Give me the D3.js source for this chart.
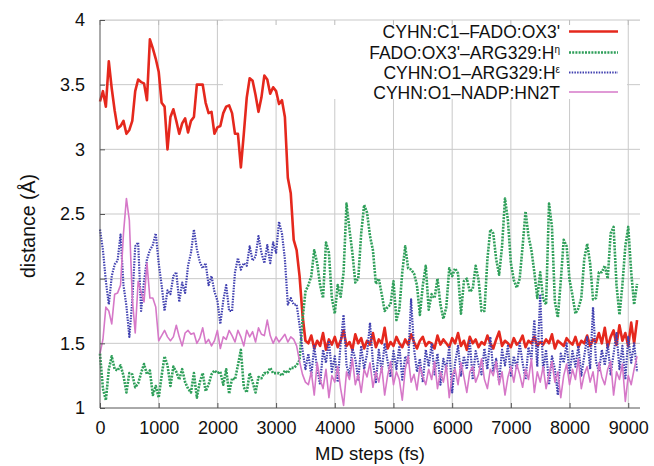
<!DOCTYPE html>
<html lang="en">

<head>
	<meta charset="utf-8">
	<style>
		body {
			margin: 0;
			background-color: white;
		}

		svg {
			display: block;
			background-color: white;
			font-family: 'Liberation Sans', Arial, sans-serif;
		}

		.grid line {
			stroke: #c9c9c9;
			stroke-width: 1;
		}

		.axis path,
		.axis line {
			stroke: #555;
		}

		.axis text {
			fill: #111;
			font-size: 18px;
		}

		.series {
			fill: none;
		}
	</style>
</head>

<body>
	<svg width="654" height="466"></svg>
	<script src="https://d3js.org/d3.v7.min.js"></script>
	<script>
		// MD steps, one frame every 50 fs
		const steps = d3.range(0, 9200, 50);

		const xTicks = [0, 1000, 2000, 3000, 4000, 5000, 6000, 7000, 8000, 9000];
		const yTicks = [1, 1.5, 2, 2.5, 3, 3.5, 4];

		// CYHN:C1-FADO:OX3'
		const c1Ox3 = [
			3.37, 3.45, 3.33, 3.68, 3.47, 3.30, 3.16, 3.18, 3.22, 3.12,
			3.15, 3.22, 3.45, 3.54, 3.52, 3.51, 3.38, 3.85, 3.78, 3.70,
			3.60, 3.36, 3.33, 3.00, 3.25, 3.31, 3.22, 3.12, 3.20, 3.24,
			3.13, 3.22, 3.25, 3.50, 3.50, 3.50, 3.36, 3.28, 3.29, 3.12,
			3.17, 3.18, 3.28, 3.33, 3.34, 3.28, 3.12, 3.12, 2.86, 3.12,
			3.40, 3.55, 3.53, 3.42, 3.29, 3.40, 3.57, 3.54, 3.43, 3.48,
			3.45, 3.35, 3.38, 3.25, 2.78, 2.66, 2.30, 2.22, 2.02, 1.72,
			1.52,
			1.50, 1.56, 1.46, 1.52, 1.48, 1.58, 1.45, 1.53, 1.49, 1.55,
			1.47, 1.52, 1.60, 1.48, 1.51, 1.45, 1.57, 1.50, 1.54, 1.46,
			1.52, 1.49, 1.58, 1.47, 1.53, 1.50, 1.62, 1.46, 1.51, 1.48,
			1.55, 1.50, 1.47, 1.53, 1.49, 1.57, 1.51, 1.46, 1.52, 1.55,
			1.48, 1.51, 1.50, 1.46, 1.56, 1.49, 1.53, 1.50, 1.47, 1.54,
			1.50, 1.58, 1.48, 1.52, 1.45, 1.55, 1.50, 1.53, 1.47, 1.51,
			1.49, 1.56, 1.50, 1.46, 1.53, 1.59, 1.48, 1.52, 1.50, 1.47,
			1.54, 1.49, 1.51, 1.56, 1.47, 1.52, 1.50, 1.55, 1.48, 1.51,
			1.49, 1.53, 1.50, 1.57, 1.46, 1.52, 1.50, 1.48, 1.54, 1.51,
			1.49, 1.55, 1.47, 1.52, 1.50, 1.56, 1.48, 1.53, 1.51, 1.58,
			1.50, 1.62, 1.47, 1.55, 1.60, 1.49, 1.64, 1.52, 1.58, 1.48,
			1.66, 1.50, 1.68
		];

		// FADO:OX3'-ARG329:H(eta)
		const ox3Heta = [
			1.42, 1.15, 1.06, 1.30, 1.40, 1.30, 1.29, 1.33, 1.25, 1.12,
			1.27, 1.26, 1.16, 1.19, 1.27, 1.34, 1.26, 1.29, 1.10, 1.17,
			1.08, 1.25, 1.40, 1.33, 1.17, 1.32, 1.28, 1.22, 1.30, 1.20,
			1.15, 1.12, 1.27, 1.08, 1.20, 1.27, 1.13, 1.18, 1.26, 1.29,
			1.27, 1.28, 1.18, 1.30, 1.11, 1.23, 1.22, 1.33, 1.45, 1.16,
			1.12, 1.27, 1.20, 1.12, 1.24, 1.23, 1.27, 1.27, 1.31, 1.27,
			1.27, 1.27, 1.25, 1.29, 1.27, 1.31, 1.31, 1.33, 1.37, 1.68,
			1.90, 1.95, 2.02, 2.22, 2.12, 1.95, 1.85, 2.28, 2.20, 1.85,
			1.73, 1.95, 1.86, 2.05, 2.58, 2.38, 2.20, 1.97, 2.00, 2.35,
			2.57, 2.51, 2.33, 2.22, 1.96, 2.00, 1.88, 1.75, 1.78, 1.80,
			1.98, 1.68, 1.76, 2.05, 2.25, 2.08, 2.07, 2.04, 1.95, 1.72,
			1.95, 2.10, 1.76, 1.88, 1.85, 2.00, 1.80, 1.69, 1.78, 2.08,
			2.02, 2.08, 2.04, 1.73, 1.98, 2.00, 1.90, 1.92, 2.10, 1.99,
			1.75, 1.75, 2.15, 2.38, 2.35, 2.15, 2.03, 2.25, 2.62, 2.45,
			2.12, 1.99, 1.93, 2.00, 2.25, 2.52, 2.33, 2.22, 2.05, 1.85,
			2.05, 1.84, 1.80, 2.58, 2.40, 1.82, 1.70, 1.98, 2.30, 2.25,
			1.99, 1.87, 1.73, 1.77, 1.85, 2.15, 2.27, 2.12, 1.84, 1.85,
			2.05, 2.05, 2.10, 2.00, 2.35, 2.40, 1.95, 1.72, 1.95, 2.25,
			2.40, 2.05, 1.80, 1.96
		];

		// CYHN:O1-ARG329:H(epsilon)
		const o1Heps = [
			2.38, 2.22, 1.98, 1.80, 2.02, 2.11, 2.14, 2.34, 1.95, 1.79,
			1.55, 1.83, 2.25, 2.28, 1.75, 1.98, 2.15, 2.22, 2.26, 2.35,
			2.12, 1.95, 1.75, 1.91, 1.88, 2.02, 2.05, 1.82, 1.97, 1.89,
			2.10, 2.20, 2.38, 2.23, 2.13, 2.08, 2.12, 1.95, 2.02, 1.90,
			1.83, 1.65, 1.83, 1.95, 1.75, 1.75, 2.05, 2.16, 2.07, 2.12,
			2.10, 2.25, 2.14, 2.17, 2.33, 2.20, 2.12, 2.26, 2.12, 2.28,
			2.20, 2.44, 2.35, 2.15, 1.80, 1.85, 1.80, 1.80, 1.64, 1.45,
			1.30,
			1.42, 1.25, 1.48, 1.30, 1.18, 1.45, 1.35, 1.52, 1.28, 1.40,
			1.20, 1.50, 1.72, 1.33, 1.25, 1.46, 1.38, 1.22, 1.48, 1.30,
			1.42, 1.66, 1.35, 1.20, 1.45, 1.28, 1.50, 1.36, 1.24, 1.44,
			1.30, 1.48, 1.22, 1.40, 1.35, 1.84, 1.46, 1.28, 1.38, 1.20,
			1.45, 1.32, 1.50, 1.26, 1.42, 1.18, 1.38, 1.30, 1.47, 1.12,
			1.35, 1.48, 1.25, 1.40, 1.30, 1.52, 1.22, 1.44, 1.34, 1.26,
			1.46, 1.30, 1.55, 1.28, 1.38, 1.20, 1.45, 1.33, 1.48, 1.25,
			1.40, 1.30, 1.50, 1.35, 1.22, 1.47, 1.38, 1.68, 1.32, 1.88,
			1.28, 1.45, 1.18, 1.40, 1.30, 1.10, 1.42, 1.35, 1.50, 1.26,
			1.44, 1.32, 1.48, 1.25, 1.40, 1.55, 1.30, 1.78, 1.36, 1.28,
			1.45, 1.33, 1.50, 1.26, 1.42, 1.58, 1.30, 1.48, 1.22, 1.55,
			1.35, 1.50, 1.28
		];

		// CYHN:O1-NADP:HN2T
		const o1Hn2t = [
			1.42, 1.53, 1.78, 1.75, 1.65, 1.88, 1.89, 1.95, 2.35, 2.62,
			2.45, 1.85, 1.58, 1.98, 1.90, 1.82, 2.12, 1.85, 1.85, 1.78,
			1.52, 1.56, 1.60, 1.55, 1.52, 1.55, 1.64, 1.55, 1.48, 1.58,
			1.60, 1.57, 1.58, 1.50, 1.54, 1.62, 1.50, 1.53, 1.48, 1.52,
			1.60, 1.46, 1.55, 1.53, 1.60, 1.56, 1.51, 1.60, 1.55, 1.48,
			1.60, 1.55, 1.59, 1.51, 1.62, 1.57, 1.56, 1.68, 1.56, 1.50,
			1.55, 1.51, 1.54, 1.57, 1.51, 1.55, 1.53, 1.48, 1.36, 1.26,
			1.20,
			1.18, 1.28, 1.10, 1.35, 1.22, 1.15, 1.30, 1.08, 1.25, 1.20,
			1.32, 1.15, 1.02, 1.28, 1.22, 1.38, 1.18, 1.26, 1.12, 1.30,
			1.24, 1.35, 1.16, 1.28, 1.20, 1.32, 1.10, 1.25, 1.36, 1.18,
			1.28, 1.22, 1.06, 1.30, 1.40, 1.20, 1.26, 1.14, 1.32, 1.24,
			1.18, 1.30, 1.22, 1.36, 1.15, 1.28, 1.20, 1.33, 1.08, 1.25,
			1.30, 1.18, 1.35, 1.24, 1.12, 1.28, 1.32, 1.20, 1.26, 1.38,
			1.22, 1.15, 1.30, 1.25, 1.36, 1.18, 1.28, 1.10, 1.24, 1.32,
			1.20, 1.34, 1.26, 1.16, 1.30, 1.22, 1.38, 1.12, 1.28, 1.20,
			1.32, 1.15, 1.26, 1.36, 1.20, 1.28, 1.08, 1.25, 1.34, 1.18,
			1.30, 1.22, 1.38, 1.15, 1.26, 1.32, 1.20, 1.28, 1.12, 1.35,
			1.24, 1.18, 1.30, 1.36, 1.10, 1.28, 1.22, 1.34, 1.05, 1.25,
			1.18, 1.30, 1.40
		];

		const seriesList = [
			{ label: "CYHN:C1\u2013FADO:OX3'", sup: null, values: c1Ox3, color: "#e5281d", width: 2.6, dash: null },
			{ label: "FADO:OX3'\u2013ARG329:H", sup: "\u03b7", values: ox3Heta, color: "#2f9f5a", width: 2.6, dash: "2,1.2" },
			{ label: "CYHN:O1\u2013ARG329:H", sup: "\u03b5", values: o1Heps, color: "#4040b0", width: 2.2, dash: "1.5,1.2" },
			{ label: "CYHN:O1\u2013NADP:HN2T", sup: null, values: o1Hn2t, color: "#d678c8", width: 1.6, dash: null }
		];

		//basic set up
		const width = 654;
		const height = 466;
		const margin = { top: 20, right: 14, bottom: 58, left: 100 };

		const x = d3.scaleLinear().domain([0, 9200]).range([margin.left, width - margin.right]);
		const y = d3.scaleLinear().domain([1, 4]).range([height - margin.bottom, margin.top]);

		const svg = d3.select("svg");

		// key box, gnuplot keeps grid lines out of it
		const keyBox = { x0: 223, x1: 627, y0: margin.top, y1: 99 };

		svg.append("clipPath")
			.attr("id", "grid-clip")
			.append("path")
			.attr("clip-rule", "evenodd")
			.attr("d", "M" + x.range()[0] + "," + y.range()[1] + "H" + x.range()[1] + "V" + y.range()[0] + "H" + x.range()[0] + "Z" +
				"M" + keyBox.x0 + "," + keyBox.y0 + "H" + keyBox.x1 + "V" + keyBox.y1 + "H" + keyBox.x0 + "Z");

		const grid = svg.append("g")
			.attr("class", "grid")
			.attr("clip-path", "url(#grid-clip)");

		grid.selectAll("line.gx")
			.data(xTicks.slice(1))
			.enter().append("line")
			.attr("class", "gx")
			.attr("x1", d => x(d)).attr("x2", d => x(d))
			.attr("y1", y(4)).attr("y2", y(1));

		grid.selectAll("line.gy")
			.data(yTicks.slice(1))
			.enter().append("line")
			.attr("class", "gy")
			.attr("x1", x(0)).attr("x2", x.range()[1])
			.attr("y1", d => y(d)).attr("y2", d => y(d));

		// top border with mirrored ticks
		svg.append("line")
			.attr("x1", x(0)).attr("x2", x.range()[1])
			.attr("y1", y(4)).attr("y2", y(4))
			.attr("stroke", "#c9c9c9");

		svg.selectAll("line.top-tick")
			.data(xTicks)
			.enter().append("line")
			.attr("class", "top-tick")
			.attr("x1", d => x(d)).attr("x2", d => x(d))
			.attr("y1", y(4)).attr("y2", y(4) + 5)
			.attr("stroke", "#bbb");

		// data
		const line = d3.line()
			.x((d, i) => x(steps[i]))
			.y(d => y(d));

		svg.append("g")
			.attr("class", "lineChart")
			.selectAll("path")
			.data(seriesList)
			.enter().append("path")
			.attr("class", "series")
			.attr("d", d => line(d.values))
			.attr("stroke", d => d.color)
			.attr("stroke-width", d => d.width)
			.attr("stroke-dasharray", d => d.dash)
			.attr("stroke-linejoin", "round");

		// axes
		svg.append("g")
			.attr("class", "axis axis-y")
			.attr("transform", "translate(" + x(0) + ",0)")
			.call(d3.axisLeft(y).tickValues(yTicks).tickSize(-5).tickPadding(15).tickFormat(d => String(d)))
			.call(g => g.select(".domain").attr("d", "M0," + y(4) + "V" + y(1)));

		svg.append("g")
			.attr("class", "axis axis-x")
			.attr("transform", "translate(0," + y(1) + ")")
			.call(d3.axisBottom(x).tickValues(xTicks).tickSize(-5).tickPadding(13).tickFormat(d => String(d)))
			.call(g => g.select(".domain").attr("d", "M" + x(0) + ",0H" + x.range()[1]));

		svg.append("text")
			.attr("x", (x.range()[0] + x.range()[1]) / 2)
			.attr("y", 460)
			.attr("text-anchor", "middle")
			.style("font-size", "18.5px")
			.attr("fill", "#111")
			.text("MD steps (fs)");

		svg.append("text")
			.attr("transform", "translate(35,226) rotate(-90)")
			.attr("text-anchor", "middle")
			.style("font-size", "19.5px")
			.attr("fill", "#111")
			.text("distance (\u00c5)");

		// legend
		const legendRows = [31.5, 52.5, 72.5, 92];
		const legend = svg.append("g").attr("class", "legend");

		seriesList.forEach(function (s, i) {
			const row = legend.append("g");
			const t = row.append("text")
				.attr("x", 560)
				.attr("y", legendRows[i] + 6.5)
				.attr("text-anchor", "end")
				.style("font-size", "17.5px")
				.attr("fill", "#111");
			t.append("tspan").text(s.label);
			if (s.sup) {
				t.append("tspan")
					.attr("dy", -6.5)
					.style("font-size", "10px")
					.text(s.sup);
			}
			row.append("line")
				.attr("x1", 569).attr("x2", 618)
				.attr("y1", legendRows[i]).attr("y2", legendRows[i])
				.attr("stroke", s.color)
				.attr("stroke-width", s.width)
				.attr("stroke-dasharray", s.dash);
		});
	</script>
</body>

</html>
